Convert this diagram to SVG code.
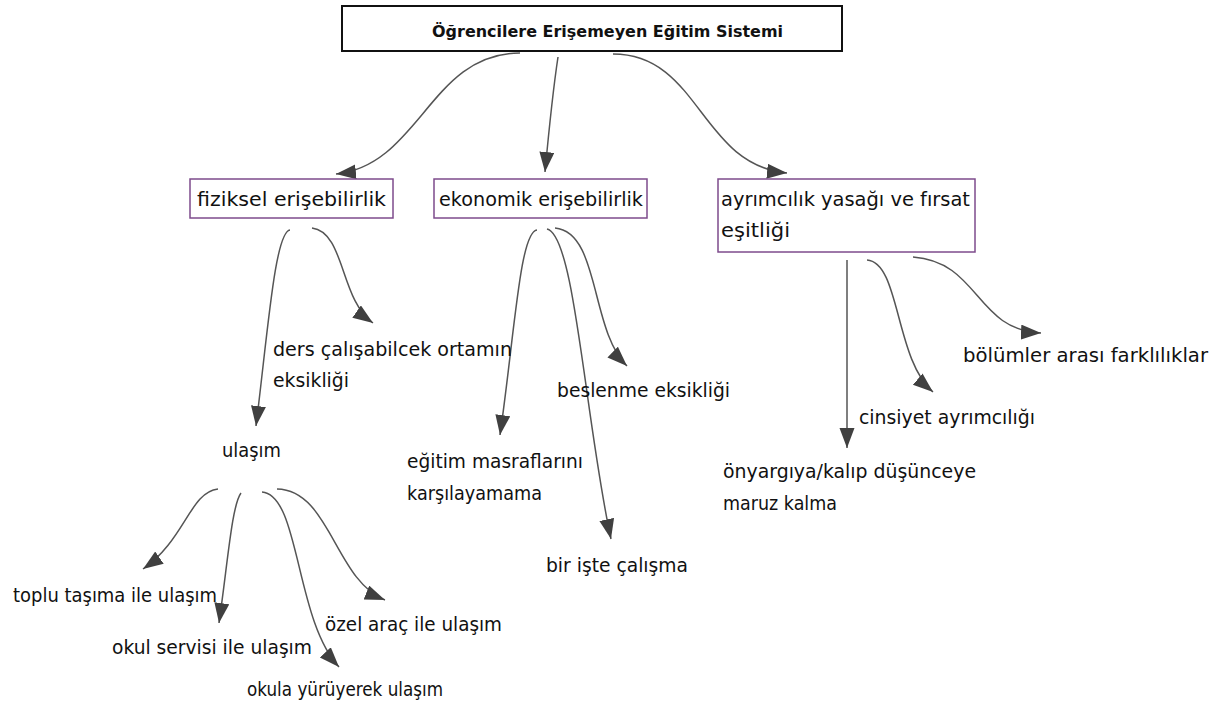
<svg xmlns="http://www.w3.org/2000/svg" width="1219" height="706" viewBox="0 0 1219 706">
<defs>
<marker id="ah" markerUnits="userSpaceOnUse" markerWidth="22" markerHeight="18" refX="20" refY="7.5" orient="auto">
<path d="M0,0 L20,7.5 L0,15 z" fill="#404040"/>
</marker>
<style>
.t{font-family:"DejaVu Sans","Liberation Sans",sans-serif;font-size:19.5px;fill:#111}
.tb{font-family:"DejaVu Sans","Liberation Sans",sans-serif;font-size:16px;font-weight:bold;fill:#111}
.box{fill:#fff;stroke:#7e4b8c;stroke-width:1.5}
.root{fill:#fff;stroke:#111;stroke-width:2}
.c path{fill:none;stroke:#555;stroke-width:1.5;marker-end:url(#ah)}
</style>
</defs>
<rect width="1219" height="706" fill="#fff"/>
<g id="connectors" class="c">
<path d="M520 53 C430 53,420 165,336 174"/>
<path d="M558 57 C553 90,548 140,545 172"/>
<path d="M613 54 C700 54,700 165,787 173"/>
<path d="M290 230 C275 232,268 330,256 426"/>
<path d="M312 228 C345 232,340 300,373 323"/>
<path d="M537 230 C520 232,515 330,500 435"/>
<path d="M547 229 C575 235,585 420,611 539"/>
<path d="M555 228 C600 232,590 330,627 366"/>
<path d="M847 260 L847 448"/>
<path d="M867 260 C900 262,895 360,933 392"/>
<path d="M913 257 C980 262,975 330,1041 333"/>
<path d="M218 489 C190 492,185 540,143 569"/>
<path d="M241 493 C232 505,228 560,219 623"/>
<path d="M262 492 C300 495,295 620,339 667"/>
<path d="M277 489 C330 490,335 580,385 600"/>
</g>
<g id="root"><rect class="root" x="342" y="6" width="500" height="45"/><text class="tb" x="432" y="37" textLength="351" lengthAdjust="spacingAndGlyphs">Öğrencilere Erişemeyen Eğitim Sistemi</text></g>
<g id="fiziksel"><rect class="box" x="190" y="179" width="203" height="39"/><text class="t" x="197" y="206" textLength="189" lengthAdjust="spacingAndGlyphs">fiziksel erişebilirlik</text></g>
<g id="ekonomik"><rect class="box" x="434" y="179" width="213" height="39"/><text class="t" x="439" y="206" textLength="204" lengthAdjust="spacingAndGlyphs">ekonomik erişebilirlik</text></g>
<g id="ayrimcilik"><rect class="box" x="718" y="179" width="257" height="73"/><text class="t" x="721" y="206" textLength="249" lengthAdjust="spacingAndGlyphs">ayrımcılık yasağı ve fırsat</text><text class="t" x="721" y="237" textLength="69" lengthAdjust="spacingAndGlyphs">eşitliği</text></g>
<g id="ders"><text class="t" x="273" y="356" textLength="239" lengthAdjust="spacingAndGlyphs">ders çalışabilcek ortamın</text><text class="t" x="273" y="387" textLength="76" lengthAdjust="spacingAndGlyphs">eksikliği</text></g>
<g id="ulasim"><text class="t" x="222" y="457" textLength="59" lengthAdjust="spacingAndGlyphs">ulaşım</text></g>
<g id="toplu"><text class="t" x="13" y="602" textLength="204" lengthAdjust="spacingAndGlyphs">toplu taşıma ile ulaşım</text></g>
<g id="servis"><text class="t" x="112" y="654" textLength="200" lengthAdjust="spacingAndGlyphs">okul servisi ile ulaşım</text></g>
<g id="yuruyerek"><text class="t" x="247" y="696" textLength="196" lengthAdjust="spacingAndGlyphs">okula yürüyerek ulaşım</text></g>
<g id="ozel"><text class="t" x="325" y="631" textLength="177" lengthAdjust="spacingAndGlyphs">özel araç ile ulaşım</text></g>
<g id="masraf"><text class="t" x="407" y="468" textLength="176" lengthAdjust="spacingAndGlyphs">eğitim masraflarını</text><text class="t" x="407" y="500" textLength="135" lengthAdjust="spacingAndGlyphs">karşılayamama</text></g>
<g id="beslenme"><text class="t" x="557" y="397" textLength="173" lengthAdjust="spacingAndGlyphs">beslenme eksikliği</text></g>
<g id="calisma"><text class="t" x="546" y="572" textLength="142" lengthAdjust="spacingAndGlyphs">bir işte çalışma</text></g>
<g id="onyargi"><text class="t" x="723" y="478" textLength="253" lengthAdjust="spacingAndGlyphs">önyargıya/kalıp düşünceye</text><text class="t" x="723" y="510" textLength="114" lengthAdjust="spacingAndGlyphs">maruz kalma</text></g>
<g id="cinsiyet"><text class="t" x="859" y="424" textLength="176" lengthAdjust="spacingAndGlyphs">cinsiyet ayrımcılığı</text></g>
<g id="bolumler"><text class="t" x="963" y="362" textLength="245" lengthAdjust="spacingAndGlyphs">bölümler arası farklılıklar</text></g>
</svg>
